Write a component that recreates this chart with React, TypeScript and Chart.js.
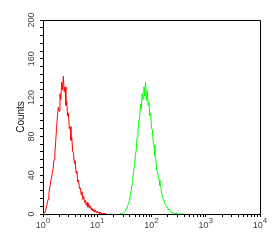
import React, { useEffect, useRef } from 'react';
import { Chart, registerables } from 'chart.js';

Chart.register(...registerables);

// Histogram channels: 256 channels per decade, 4 channels per bin
const CHANNELS_PER_DECADE = 256;
const BIN_CHANNELS = 4;

const redStartChannel = 0;
const redCounts = [
  0, 0, 1, 3, 7, 11, 15, 22, 27, 33,
  37, 43, 47, 56, 63, 75, 88, 101, 110, 106,
  124, 118, 136, 128, 142, 126, 131, 112, 116, 101,
  104, 88, 90, 76, 79, 64, 63, 52, 55, 42,
  44, 33, 35, 26, 27, 20, 23, 15, 18, 12,
  14, 9, 12, 7, 10, 6, 8, 4, 6, 3,
  5, 2, 4, 1, 3, 1, 2, 0, 2, 0,
  1, 0, 1, 0, 0, 0,
];

const greenStartChannel = 364;
const greenCounts = [
  0, 0, 1, 0, 1, 2, 3, 5, 6, 9,
  11, 14, 19, 24, 30, 36, 45, 50, 61, 66,
  79, 84, 96, 99, 113, 108, 124, 118, 131, 122,
  136, 117, 127, 112, 115, 101, 104, 88, 87, 74,
  71, 60, 57, 45, 44, 39, 35, 29, 28, 21,
  19, 14, 14, 10, 10, 7, 7, 4, 5, 3,
  3, 1, 2, 0, 1, 0, 1, 0, 0, 0,
  0, 0, 0, 0, 0, 0,
];

const xDecadeExponents = ['0', '1', '2', '3', '4'];
const xMinorMultipliers = [1, 2, 3, 4, 5, 6, 7, 8, 9];
const yMax = 200;
const yMinorStep = 8;
const yMajorStep = 40;
const yTitle = 'Counts';

const toPoints = (start: number, counts: number[]) =>
  counts.map((c, i) => ({
    x: Math.pow(10, (start + i * BIN_CHANNELS) / CHANNELS_PER_DECADE),
    y: c,
  }));

const FONT = '"Liberation Sans", Arial, sans-serif';
const LABEL_COLOR = '#444';

const framePlugin = {
  id: 'frameAndLabels',
  afterDraw(chart: any) {
    const { ctx, chartArea } = chart;
    const xs = chart.scales.x;
    ctx.save();
    ctx.strokeStyle = '#000';
    ctx.lineWidth = 1;
    ctx.beginPath();
    ctx.moveTo(chartArea.left, chartArea.top + 0.5);
    ctx.lineTo(chartArea.right + 0.5, chartArea.top + 0.5);
    ctx.lineTo(chartArea.right + 0.5, chartArea.bottom);
    ctx.stroke();

    ctx.fillStyle = LABEL_COLOR;
    ctx.textBaseline = 'alphabetic';
    ctx.textAlign = 'left';
    xDecadeExponents.forEach((e) => {
      const px = xs.getPixelForValue(Math.pow(10, Number(e)));
      ctx.font = `9px ${FONT}`;
      const base = '10';
      const w1 = ctx.measureText(base).width;
      ctx.font = `8px ${FONT}`;
      const w2 = ctx.measureText(e).width;
      const left = px - (w1 + w2) / 2;
      ctx.font = `9px ${FONT}`;
      ctx.fillText(base, left, chartArea.bottom + 14);
      ctx.font = `8px ${FONT}`;
      ctx.fillText(e, left + w1, chartArea.bottom + 9);
    });
    ctx.restore();
  },
};

export default function App() {
  const ref = useRef<HTMLCanvasElement | null>(null);

  useEffect(() => {
    if (!ref.current) return;
    const chart = new Chart(ref.current, {
      type: 'line',
      data: {
        datasets: [
          {
            data: toPoints(redStartChannel, redCounts),
            borderColor: '#ff0000',
            borderWidth: 1,
            pointRadius: 0,
            tension: 0,
          },
          {
            data: toPoints(greenStartChannel, greenCounts),
            borderColor: '#00ff00',
            borderWidth: 1,
            pointRadius: 0,
            tension: 0,
          },
        ],
      },
      options: {
        responsive: false,
        animation: false,
        layout: { padding: { left: 0, top: 20, right: 18, bottom: 0 } },
        plugins: { legend: { display: false }, tooltip: { enabled: false } },
        scales: {
          x: {
            type: 'logarithmic',
            min: 1,
            max: 10000,
            afterFit: (s: any) => {
              s.height = 26;
            },
            afterBuildTicks: (s: any) => {
              const t: any[] = [];
              xDecadeExponents.forEach((e, k) => {
                const d = Math.pow(10, Number(e));
                if (k === xDecadeExponents.length - 1) {
                  t.push({ value: d });
                } else {
                  xMinorMultipliers.forEach((m) => t.push({ value: m * d }));
                }
              });
              s.ticks = t;
            },
            ticks: {
              autoSkip: false,
              maxRotation: 0,
              callback: () => '',
              font: { size: 9, family: FONT },
            },
            grid: {
              drawOnChartArea: false,
              drawTicks: true,
              tickLength: 3,
              tickColor: '#000',
              color: '#000',
            },
            border: { display: true, color: '#000', width: 1 },
          },
          y: {
            type: 'linear',
            min: 0,
            max: yMax,
            afterFit: (s: any) => {
              s.width = 43;
            },
            ticks: {
              stepSize: yMinorStep,
              autoSkip: false,
              minRotation: 90,
              maxRotation: 90,
              crossAlign: 'center',
              padding: 1,
              color: LABEL_COLOR,
              font: { size: 9, family: FONT },
              callback: (v: any) => (Number(v) % yMajorStep === 0 ? String(v) : ''),
            },
            grid: {
              drawOnChartArea: false,
              drawTicks: true,
              tickLength: 3,
              tickColor: '#000',
              color: '#000',
            },
            border: { display: true, color: '#000', width: 1 },
            title: {
              display: true,
              text: yTitle,
              color: '#111',
              font: { size: 10, family: FONT },
              padding: { top: 15, bottom: 0 },
            },
          },
        },
      },
      plugins: [framePlugin],
    } as any);
    return () => chart.destroy();
  }, []);

  return (
    <div style={{ position: 'fixed', left: 0, top: 0, width: 278, height: 240, background: '#fff' }}>
      <canvas ref={ref} width={278} height={240} style={{ width: 278, height: 240, display: 'block' }} />
    </div>
  );
}
